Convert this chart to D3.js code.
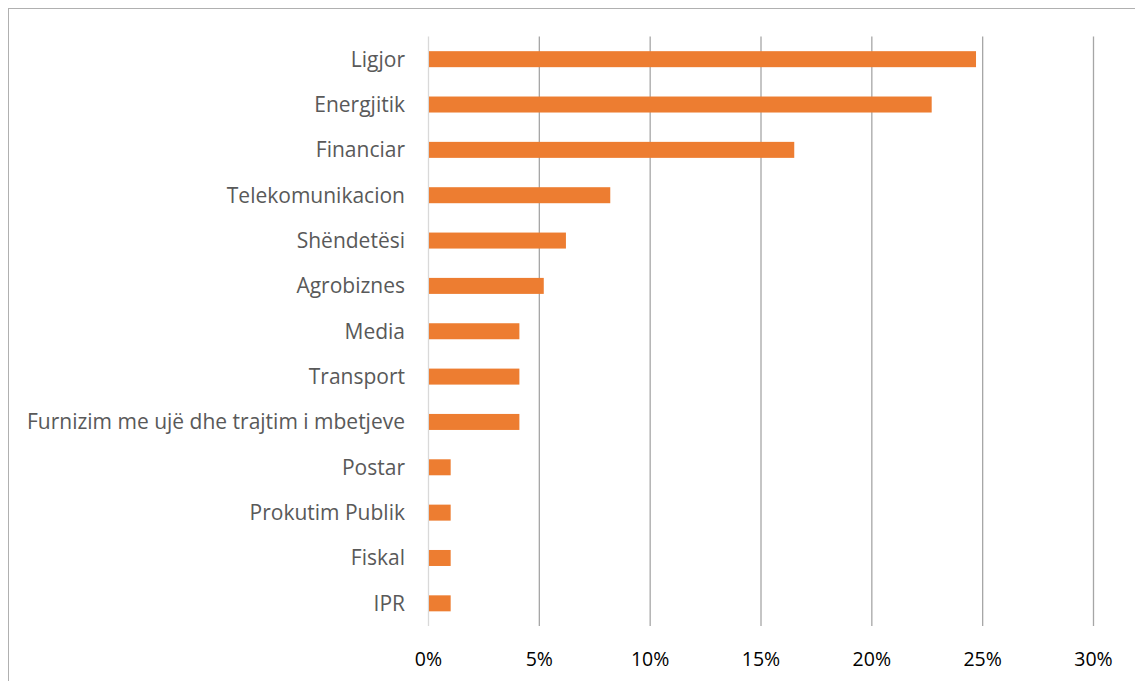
<!DOCTYPE html>
<html>
<head>
<meta charset="utf-8">
<script src="https://cdn.jsdelivr.net/npm/d3@7"></script>
<style>
  html, body { margin: 0; padding: 0; background: #fff; }
  svg { display: block; font-family: "Open Sans", Lato, sans-serif; }
</style>
</head>
<body>
<div id="chart"></div>
<script>
// sectors and their share (%)
const categories = [
  "Ligjor", "Energjitik", "Financiar", "Telekomunikacion", "Shëndetësi",
  "Agrobiznes", "Media", "Transport", "Furnizim me ujë dhe trajtim i mbetjeve",
  "Postar", "Prokutim Publik", "Fiskal", "IPR"
];
const values = [24.7, 22.7, 16.5, 8.2, 6.2, 5.2, 4.1, 4.1, 4.1, 1.0, 1.0, 1.0, 1.0];
const ticks = [0, 5, 10, 15, 20, 25, 30];

const width = 1135, height = 681;
const margin = { top: 36.5, right: 42, bottom: 55, left: 428.5 };

const svg = d3.select("#chart").append("svg")
  .attr("width", width)
  .attr("height", height);

// outer chart frame (runs off the right and bottom edges)
svg.append("rect")
  .attr("x", 8.5).attr("y", 8.5)
  .attr("width", width + 20).attr("height", height + 20)
  .attr("fill", "none")
  .attr("stroke", "#b0b0b0")
  .attr("stroke-width", 1);

const x = d3.scaleLinear().domain([0, 30]).range([margin.left, 1093.5]);
const y = d3.scaleBand().domain(categories)
  .range([margin.top, height - margin.bottom]);

// gridlines
svg.append("g")
  .selectAll("line")
  .data(ticks)
  .join("line")
  .attr("x1", d => x(d)).attr("x2", d => x(d))
  .attr("y1", margin.top).attr("y2", height - margin.bottom)
  .attr("stroke", d => d === 0 ? "#d9d9d9" : "#a6a6a6")
  .attr("stroke-width", 1.3);

// bars
const barH = 16;
svg.append("g")
  .selectAll("rect")
  .data(values)
  .join("rect")
  .attr("x", x(0) + 0.5)
  .attr("y", (d, i) => y(categories[i]) + y.bandwidth() / 2 - barH / 2)
  .attr("width", d => x(d) - x(0) - 0.5)
  .attr("height", barH)
  .attr("fill", "#ED7D31");

// category labels
svg.append("g")
  .selectAll("text")
  .data(categories)
  .join("text")
  .attr("x", 405)
  .attr("y", d => y(d) + y.bandwidth() / 2)
  .attr("dy", "0.35em")
  .attr("text-anchor", "end")
  .attr("fill", "#595959")
  .attr("font-size", 21)
  .text(d => d);

// tick labels
svg.append("g")
  .selectAll("text")
  .data(ticks)
  .join("text")
  .attr("x", d => x(d))
  .attr("y", 659)
  .attr("dy", "0.35em")
  .attr("text-anchor", "middle")
  .attr("fill", "#000")
  .attr("font-size", 19.5)
  .text(d => d + "%");
</script>
</body>
</html>
